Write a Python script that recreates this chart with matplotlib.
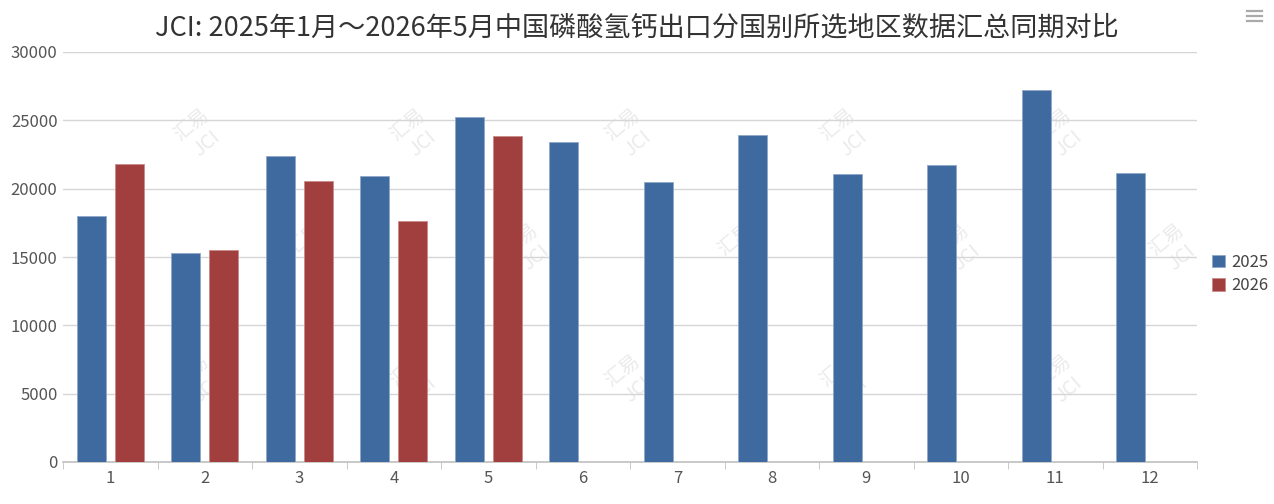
import matplotlib.pyplot as plt
import numpy as np

plt.rcParams['font.family'] = ['Noto Sans CJK SC', 'DejaVu Sans']

# ===== DATA =====
months = ["1", "2", "3", "4", "5", "6", "7", "8", "9", "10", "11", "12"]
vals_2025 = [18000, 15300, 22400, 20950, 25250, 23420, 20500, 23930, 21080, 21740, 27230, 21150]
vals_2026 = [21820, 15520, 20570, 17650, 23860]
title = "JCI: 2025年1月～2026年5月中国磷酸氢钙出口分国别所选地区数据汇总同期对比"

BLUE = "#3e6a9f"
RED = "#a03f3e"

# ===== PLOT =====
fig = plt.figure(figsize=(12.74, 5.04), dpi=100)
ax = fig.add_axes([63 / 1274, 42 / 504, (1197 - 63) / 1274, (462 - 52) / 504])

x = np.arange(len(months))
w = 0.31
ax.bar(x - 0.2, vals_2025, width=w, color=BLUE, edgecolor="#8fa9c8", linewidth=0.6,
       label="2025", zorder=3)
ax.bar(np.arange(len(vals_2026)) + 0.2, vals_2026, width=w, color=RED, edgecolor="#c98a89",
       linewidth=0.6, label="2026", zorder=3)

ax.set_xlim(-0.5, len(months) - 0.5)
ax.set_ylim(0, 30000)
ax.set_yticks(range(0, 30001, 5000))
ax.set_xticks(x)
ax.set_xticklabels(months)
ax.set_xticks(np.arange(-0.5, len(months), 1), minor=True)
ax.tick_params(axis="x", which="major", length=0, pad=6, labelsize=12, labelcolor="#555555")
ax.tick_params(axis="x", which="minor", length=5, color="#c0c0c0", direction="out")
ax.tick_params(axis="y", length=0, pad=4, labelsize=12, labelcolor="#555555")
ax.grid(axis="y", color="#d6d6d6", linewidth=1, zorder=0)
for s in ["top", "right", "left"]:
    ax.spines[s].set_visible(False)
ax.spines["bottom"].set_color("#c0c0c0")
ax.spines["bottom"].set_linewidth(1.2)

# faint watermarks
for wx in [0.12, 0.31, 0.5, 0.69, 0.88]:
    for wy in [0.8, 0.2]:
        ax.text(wx, wy, "汇易\nJCI", transform=ax.transAxes, rotation=40, fontsize=14,
                color="#cccccc", alpha=0.4, ha="center", va="center", zorder=1)
for wx in [0.22, 0.41, 0.6, 0.79, 0.98]:
    ax.text(wx, 0.52, "汇易\nJCI", transform=ax.transAxes, rotation=40, fontsize=14,
            color="#cccccc", alpha=0.4, ha="center", va="center", zorder=1)

fig.text(0.5, 1 - 28 / 504, title, ha="center", va="center", fontsize=19.5, color="#333333")

leg = fig.legend(loc="center left", bbox_to_anchor=(1197 / 1274, 1 - 274 / 504), frameon=False,
                 fontsize=12, handlelength=0.75, handleheight=0.75, handletextpad=0.4,
                 labelspacing=0.4)
for t in leg.get_texts():
    t.set_color("#444444")

# menu icon
for yy in [11, 16, 21]:
    fig.add_artist(plt.Line2D([1247 / 1274, 1262 / 1274], [1 - yy / 504, 1 - yy / 504],
                              color="#aaaaaa", linewidth=1.6))

fig.savefig("out.png", dpi=100)
